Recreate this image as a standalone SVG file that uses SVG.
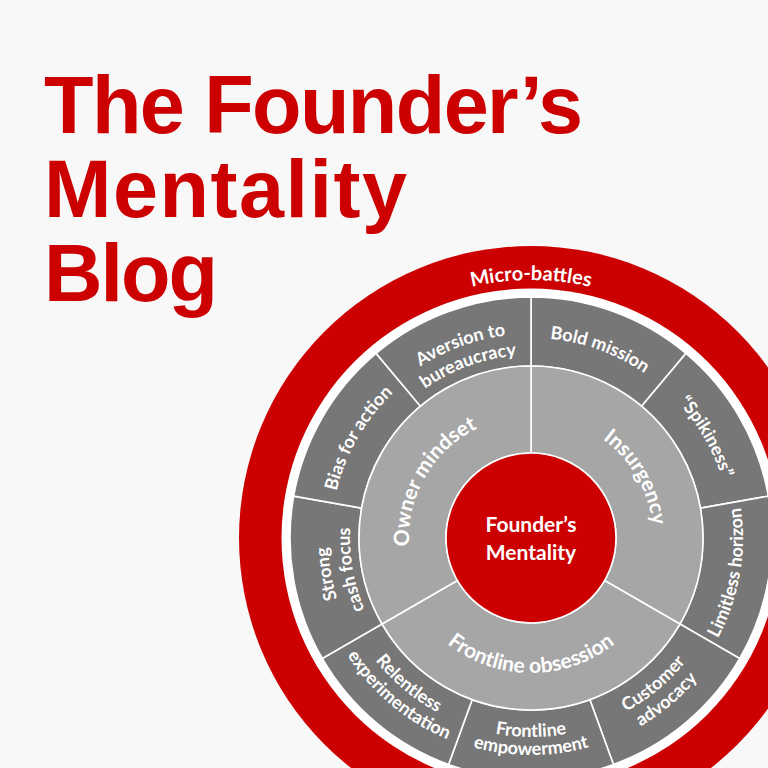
<svg xmlns="http://www.w3.org/2000/svg" width="768" height="768" viewBox="0 0 768 768">
<style>
.title{font-family:"Liberation Sans",Arial,sans-serif;font-weight:700;font-size:81px;fill:#cc0000}
.lbl{font-family:Lato,"Open Sans",sans-serif;font-weight:700;fill:#ffffff}
.outer{font-size:18px}
.mid{font-size:21px}
.ctr{font-size:21px}
.seg{fill:#777777;stroke:#ffffff;stroke-width:1.6}
.mseg{fill:#a6a6a6;stroke:#ffffff;stroke-width:1.6}
</style>
<defs>
<path id="pMicro" d="M348.57,355.57 A258,258 0 0 1 713.43,355.57"/>
<path id="pAv1" d="M346.11,451.79 A204,204 0 0 1 617.21,353.11"/>
<path id="pAv2" d="M365.15,460.66 A183,183 0 0 1 608.34,372.15"/>
<path id="pBold" d="M446.48,356.74 A200,200 0 0 1 712.26,453.48"/>
<path id="pSpik" d="M582.76,344.81 A200,200 0 0 1 724.19,589.76"/>
<path id="pLim" d="M652.6,711.66 A212,212 0 0 0 704.66,416.4"/>
<path id="pCus1" d="M513.74,735.25 A198,198 0 0 0 728.25,555.26"/>
<path id="pCus2" d="M512,755.17 A218,218 0 0 0 748.17,557"/>
<path id="pFe1" d="M390.29,678.71 A199,199 0 0 0 671.71,678.71"/>
<path id="pFe2" d="M377.56,691.44 A217,217 0 0 0 684.44,691.44"/>
<path id="pRe1" d="M333.75,555.26 A198,198 0 0 0 548.26,735.25"/>
<path id="pRe2" d="M313.83,557 A218,218 0 0 0 550,755.17"/>
<path id="pSt1" d="M414.56,704.29 A203,203 0 0 1 364.71,421.56"/>
<path id="pSt2" d="M427.18,686.27 A181,181 0 0 1 382.73,434.18"/>
<path id="pBias" d="M337.81,589.76 A200,200 0 0 1 479.24,344.81"/>
<path id="pOwn" d="M413.16,569.58 A122,122 0 0 1 499.42,420.16"/>
<path id="pIns" d="M562.58,420.16 A122,122 0 0 1 648.84,569.58"/>
<path id="pFo" d="M435.54,633.46 A135,135 0 0 0 626.46,633.46"/>
</defs>
<rect x="0" y="0" width="768" height="768" fill="#f8f8f8"/>
<g id="title">
<text class="title" x="44" y="133" textLength="539">The Founder’s</text>
<text class="title" x="44" y="217" textLength="363">Mentality</text>
<text class="title" x="44" y="301" textLength="174">Blog</text>
</g>
<g id="micro-battles">
<circle cx="531" cy="538" r="292" fill="#cc0000"/>
<circle cx="531" cy="538" r="249.5" fill="#ffffff"/>
<text class="lbl" font-size="20"><textPath href="#pMicro" startOffset="50%" text-anchor="middle">Micro-battles</textPath></text>
</g>
<g id="bold-mission">
<path class="seg" d="M531,297 A241,241 0 0 1 685.91,353.38 L641.56,406.24 A172,172 0 0 0 531,366 Z"/>
<text class="lbl outer"><textPath href="#pBold" startOffset="50%" text-anchor="middle">Bold mission</textPath></text>
</g>
<g id="spikiness">
<path class="seg" d="M685.91,353.38 A241,241 0 0 1 768.34,496.15 L700.39,508.13 A172,172 0 0 0 641.56,406.24 Z"/>
<text class="lbl outer"><textPath href="#pSpik" startOffset="50%" text-anchor="middle">“Spikiness”</textPath></text>
</g>
<g id="limitless-horizon">
<path class="seg" d="M768.34,496.15 A241,241 0 0 1 739.71,658.5 L679.96,624 A172,172 0 0 0 700.39,508.13 Z"/>
<text class="lbl outer"><textPath href="#pLim" startOffset="50%" text-anchor="middle">Limitless horizon</textPath></text>
</g>
<g id="customer-advocacy">
<path class="seg" d="M739.71,658.5 A241,241 0 0 1 613.43,764.46 L589.83,699.63 A172,172 0 0 0 679.96,624 Z"/>
<text class="lbl outer"><textPath href="#pCus1" startOffset="50%" text-anchor="middle">Customer</textPath></text>
<text class="lbl outer"><textPath href="#pCus2" startOffset="50%" text-anchor="middle">advocacy</textPath></text>
</g>
<g id="frontline-empowerment">
<path class="seg" d="M613.43,764.46 A241,241 0 0 1 448.57,764.46 L472.17,699.63 A172,172 0 0 0 589.83,699.63 Z"/>
<text class="lbl outer"><textPath href="#pFe1" startOffset="50%" text-anchor="middle">Frontline</textPath></text>
<text class="lbl outer"><textPath href="#pFe2" startOffset="50%" text-anchor="middle">empowerment</textPath></text>
</g>
<g id="relentless-experimentation">
<path class="seg" d="M448.57,764.46 A241,241 0 0 1 322.29,658.5 L382.04,624 A172,172 0 0 0 472.17,699.63 Z"/>
<text class="lbl outer"><textPath href="#pRe1" startOffset="50%" text-anchor="middle">Relentless</textPath></text>
<text class="lbl outer"><textPath href="#pRe2" startOffset="50%" text-anchor="middle">experimentation</textPath></text>
</g>
<g id="strong-cash-focus">
<path class="seg" d="M322.29,658.5 A241,241 0 0 1 293.66,496.15 L361.61,508.13 A172,172 0 0 0 382.04,624 Z"/>
<text class="lbl outer"><textPath href="#pSt1" startOffset="50%" text-anchor="middle">Strong</textPath></text>
<text class="lbl outer"><textPath href="#pSt2" startOffset="50%" text-anchor="middle">cash focus</textPath></text>
</g>
<g id="bias-for-action">
<path class="seg" d="M293.66,496.15 A241,241 0 0 1 376.09,353.38 L420.44,406.24 A172,172 0 0 0 361.61,508.13 Z"/>
<text class="lbl outer"><textPath href="#pBias" startOffset="50%" text-anchor="middle">Bias for action</textPath></text>
</g>
<g id="aversion-to-bureaucracy">
<path class="seg" d="M376.09,353.38 A241,241 0 0 1 531,297 L531,366 A172,172 0 0 0 420.44,406.24 Z"/>
<text class="lbl outer"><textPath href="#pAv1" startOffset="50%" text-anchor="middle">Aversion to</textPath></text>
<text class="lbl outer"><textPath href="#pAv2" startOffset="50%" text-anchor="middle">bureaucracy</textPath></text>
</g>
<g id="insurgency">
<path class="mseg" d="M531,366 A172,172 0 0 1 679.96,624 L604.61,580.5 A85,85 0 0 0 531,453 Z"/>
<text class="lbl mid"><textPath href="#pIns" startOffset="50%" text-anchor="middle">Insurgency</textPath></text>
</g>
<g id="frontline-obsession">
<path class="mseg" d="M679.96,624 A172,172 0 0 1 382.04,624 L457.39,580.5 A85,85 0 0 0 604.61,580.5 Z"/>
<text class="lbl mid"><textPath href="#pFo" startOffset="50%" text-anchor="middle">Frontline obsession</textPath></text>
</g>
<g id="owner-mindset">
<path class="mseg" d="M382.04,624 A172,172 0 0 1 531,366 L531,453 A85,85 0 0 0 457.39,580.5 Z"/>
<text class="lbl mid"><textPath href="#pOwn" startOffset="50%" text-anchor="middle">Owner mindset</textPath></text>
</g>
<g id="founders-mentality">
<circle cx="531" cy="538" r="85" fill="#cc0000" stroke="#ffffff" stroke-width="1.6"/>
<text class="lbl ctr" x="531" y="532" text-anchor="middle">Founder’s</text>
<text class="lbl ctr" x="531" y="560" text-anchor="middle">Mentality</text>
</g>
</svg>
